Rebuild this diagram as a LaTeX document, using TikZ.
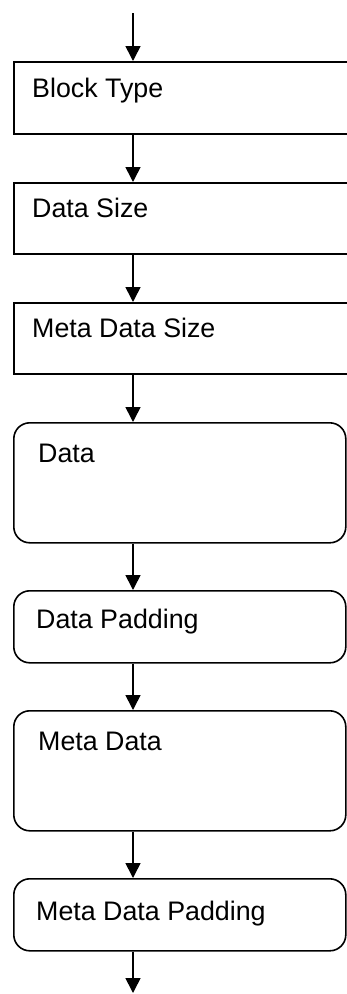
\documentclass[tikz,border=0pt]{standalone}
\usepackage{fontspec}
\setmainfont{Liberation Sans}
\usetikzlibrary{arrows.meta}
\begin{document}
\begin{tikzpicture}[x=1pt,y=-1pt,
  sqbox/.style={draw=black, line width=1.6pt, minimum width=347pt, inner sep=0pt, anchor=north west},
  rbox/.style={draw=black, line width=1.6pt, rounded corners=16pt, minimum width=332pt, inner sep=0pt, anchor=north west},
  lbl/.style={anchor=base west, inner sep=0pt, font=\fontsize{26.8}{30}\selectfont},
  arr/.style={line width=1.6pt, -{Triangle[length=15pt,width=15pt]}}]
\useasboundingbox (0,0) rectangle (347,994);
\clip (0,0) rectangle (347,994);
\coordinate (top) at (133,13);
\coordinate (end) at (133,993);
\node[sqbox, minimum height=72pt] (b1) at (13,61) {};
\node[sqbox, minimum height=71pt] (b2) at (13,182) {};
\node[sqbox, minimum height=71pt] (b3) at (13,302) {};
\node[rbox, minimum height=120pt] (b4) at (13,422) {};
\node[rbox, minimum height=72pt] (b5) at (13,590) {};
\node[rbox, minimum height=120pt] (b6) at (13,710) {};
\node[rbox, minimum height=72pt] (b7) at (13,878) {};
\node[lbl] (t1) at (32,97) {Block Type};
\node[lbl] (t2) at (32,217) {Data Size};
\node[lbl] (t3) at (32,337) {Meta Data Size};
\node[lbl] (t4) at (38,462) {Data};
\node[lbl] (t5) at (36,628) {Data Padding};
\node[lbl] (t6) at (38,750) {Meta Data};
\node[lbl] (t7) at (36,920) {Meta Data Padding};
\draw[arr] (top) -- (b1.north -| top);
\draw[arr] (b1.south -| top) -- (b2.north -| top);
\draw[arr] (b2.south -| top) -- (b3.north -| top);
\draw[arr] (b3.south -| top) -- (b4.north -| top);
\draw[arr] (b4.south -| top) -- (b5.north -| top);
\draw[arr] (b5.south -| top) -- (b6.north -| top);
\draw[arr] (b6.south -| top) -- (b7.north -| top);
\draw[arr] (b7.south -| top) -- (end);
\end{tikzpicture}
\end{document}
